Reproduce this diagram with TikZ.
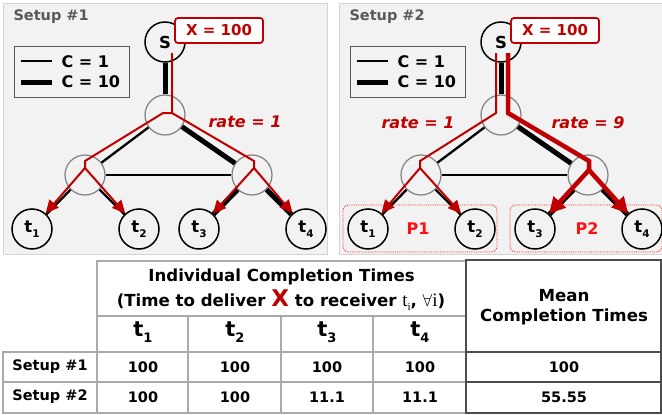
\documentclass[tikz,border=0pt]{standalone}
\usepackage{fontspec}
\setmainfont{DejaVu Sans}
\newfontfamily\serifmark{Liberation Serif}
\usetikzlibrary{arrows.meta}
\definecolor{bgGray}{HTML}{F2F2F2}
\definecolor{edgeGray}{HTML}{D4D4D4}
\definecolor{routerGray}{HTML}{808080}
\definecolor{titleGray}{HTML}{595959}
\definecolor{flowRed}{HTML}{C00000}
\definecolor{partRed}{HTML}{FF1010}
\definecolor{gridGray}{HTML}{AAAAAA}
\definecolor{meanGray}{HTML}{4D4D4D}
\newcommand{\sized}[1]{\fontsize{#1}{#1}\selectfont}
\newcommand{\idx}[1]{\raisebox{-5pt}{\sized{10.5}#1}}
\tikzset{
  panel/.style={fill=bgGray, draw=edgeGray, line width=1pt},
  title/.style={text=titleGray, font=\sized{14.5}\bfseries},
  legendbox/.style={draw=titleGray, line width=0.8pt},
  legendtxt/.style={font=\sized{16}\bfseries},
  router/.style={circle, draw=routerGray, line width=1.2pt, fill=bgGray,
    minimum size=40pt, inner sep=0pt},
  host/.style={circle, draw=black, line width=1.5pt, fill=bgGray,
    minimum size=40pt, inner sep=0pt, font=\sized{16.5}\bfseries},
  thinlink/.style={line width=2.3pt},
  thicklink/.style={line width=5pt},
  xbox/.style={draw=flowRed, fill=white, line width=1.8pt, rounded corners=3pt,
    text=flowRed, minimum width=88pt, minimum height=25pt, inner sep=0pt,
    font=\sized{15}\bfseries},
  flow/.style={draw=flowRed, line width=2pt},
  flowbig/.style={draw=flowRed, line width=4.5pt},
  redtip/.style={-{Triangle[length=13pt,width=12pt]}},
  bigtip/.style={-{Triangle[length=16pt,width=16pt]}},
  ratetxt/.style={text=flowRed, font=\sized{16}\bfseries\itshape},
  partbox/.style={draw=partRed, densely dotted, line width=0.8pt, rounded corners=5pt},
  parttxt/.style={text=partRed, font=\sized{16}\bfseries},
  grid/.style={draw=gridGray, line width=1.5pt},
  meanbox/.style={draw=meanGray, line width=2.5pt},
  cell/.style={font=\sized{14.5}\bfseries},
  head/.style={font=\sized{16.6}\bfseries, align=center}
}

\begin{document}
\begin{tikzpicture}[x=1pt, y=-1pt, font=\sized{15}\bfseries]
  \useasboundingbox (0,0) rectangle (662,415);

  % Setup #1
  \draw[panel] (3,3) rectangle (327,254);
  \node[title, anchor=west] (titleA) at (10,17) {Setup \#1};
  \draw[legendbox] (14,46) rectangle (129,97);
  \draw[thinlink] (21,61) -- (52,61);
  \draw[thicklink] (21,82) -- (52,82);
  \node[legendtxt, anchor=west] (capA1) at (58,62) {C = 1};
  \node[legendtxt, anchor=west] (capA10) at (58,82) {C = 10};

  \node[host] (sA) at (165,42) {S};
  \node[router] (hubA) at (165,115) {};
  \node[router] (leftA) at (85,175) {};
  \node[router] (rightA) at (252,175) {};
  \node[host] (tA1) at (32,229) {t\idx{1}};
  \node[host] (tA2) at (139,229) {t\idx{2}};
  \node[host] (tA3) at (199,229) {t\idx{3}};
  \node[host] (tA4) at (306,229) {t\idx{4}};

  \draw[thicklink] (sA) -- (hubA);
  \draw[thinlink] (hubA) -- (leftA);
  \draw[thicklink] (hubA) -- (rightA);
  \draw[thinlink] (leftA) -- (rightA);
  \draw[thinlink] (leftA) -- (tA1);
  \draw[thinlink] (leftA) -- (tA2);
  \draw[thicklink] (rightA) -- (tA3);
  \draw[thicklink] (rightA) -- (tA4);

  \node[xbox] (xA) at (219,30.5) {X = 100};

  \coordinate (srcA) at (172,53);
  \coordinate (bendA) at (172,113);
  \coordinate (bendAl) at (163,113);
  \coordinate (kneeAl) at (85,161);
  \coordinate (forkAl) at (85,168);
  \coordinate (kneeAr) at (254,161);
  \coordinate (forkAr) at (254,168);
  \draw[flow] (forkAl) -- (kneeAl) -- (bendAl) -- (bendA) -- (srcA);
  \draw[flow] (bendA) -- (kneeAr) -- (forkAr);
  \draw[flow, redtip] (forkAl) -- (tA1);
  \draw[flow, redtip] (forkAl) -- (tA2);
  \draw[flow, redtip] (forkAr) -- (tA3);
  \draw[flow, redtip] (forkAr) -- (tA4);
  \node[ratetxt] (rateA) at (245,122) {rate = 1};

  % Setup #2
  \begin{scope}[shift={(336,0)}]
    \draw[panel] (3,3) rectangle (330,254);
    \node[title, anchor=west] (titleB) at (10,17) {Setup \#2};
    \draw[legendbox] (14,46) rectangle (129,97);
    \draw[thinlink] (21,61) -- (52,61);
    \draw[thicklink] (21,82) -- (52,82);
    \node[legendtxt, anchor=west] (capB1) at (58,62) {C = 1};
    \node[legendtxt, anchor=west] (capB10) at (58,82) {C = 10};

    \draw[partbox] (7,205) rectangle (161,252);
    \draw[partbox] (174,205) rectangle (326,252);
    \node[parttxt] (partB1) at (82,229) {P1};
    \node[parttxt] (partB2) at (251,229) {P2};

    \node[host] (sB) at (165,42) {S};
    \node[router] (hubB) at (165,115) {};
    \node[router] (leftB) at (85,175) {};
    \node[router] (rightB) at (252,175) {};
    \node[host] (tB1) at (32,229) {t\idx{1}};
    \node[host] (tB2) at (139,229) {t\idx{2}};
    \node[host] (tB3) at (199,229) {t\idx{3}};
    \node[host] (tB4) at (306,229) {t\idx{4}};

    \draw[thicklink] (sB) -- (hubB);
    \draw[thinlink] (hubB) -- (leftB);
    \draw[thicklink] (hubB) -- (rightB);
    \draw[thinlink] (leftB) -- (rightB);
    \draw[thinlink] (leftB) -- (tB1);
    \draw[thinlink] (leftB) -- (tB2);
    \draw[thicklink] (rightB) -- (tB3);
    \draw[thicklink] (rightB) -- (tB4);

    \node[xbox] (xB) at (219,30.5) {X = 100};

    \coordinate (srcBl) at (160,53);
    \coordinate (bendBl) at (160,113);
    \coordinate (kneeBl) at (84,161);
    \coordinate (forkBl) at (84,168);
    \coordinate (srcBr) at (172,53);
    \coordinate (bendBr) at (172,113);
    \coordinate (kneeBr) at (253,161);
    \coordinate (forkBr) at (253,170);
    \draw[flow] (srcBl) -- (bendBl) -- (kneeBl) -- (forkBl);
    \draw[flowbig] (srcBr) -- (bendBr) -- (kneeBr) -- (forkBr);
    \draw[flow, redtip] (forkBl) -- (tB1);
    \draw[flow, redtip] (forkBl) -- (tB2);
    \draw[flowbig, bigtip] (forkBr) -- (tB3);
    \draw[flowbig, bigtip] (forkBr) -- (tB4);
    \node[ratetxt] (rateB1) at (82,123) {rate = 1};
    \node[ratetxt] (rateB9) at (252,123) {rate = 9};
  \end{scope}

  % table
  \draw[grid] (97,261) rectangle (466,413);
  \draw[grid] (97,316) -- (466,316);
  \draw[grid] (3,352) -- (466,352);
  \draw[grid] (3,382) -- (466,382);
  \draw[grid] (3,352) rectangle (97,413);
  \draw[grid] (188,316) -- (188,413);
  \draw[grid] (281,316) -- (281,413);
  \draw[grid] (373,316) -- (373,413);
  \draw[meanbox] (466,260) rectangle (661,413);
  \draw[meanbox] (466,352) -- (661,352);
  \draw[meanbox] (466,382) -- (661,382);

  \node[head] (hdrInd) at (281.5,277) {Individual Completion Times};
  \node[head] (hdrSub) at (281,300) {(Time to deliver
    {\color{flowRed}\sized{23}X} to receiver
    {\mdseries\serifmark\sized{19}t\raisebox{-4pt}{\sized{11}i}},
    {\sized{19}$\forall${\mdseries\serifmark i}})};
  \node[head] (hdrMean) at (564,307) {Mean\\[3pt]Completion Times};
  \node[cell, font=\sized{21}\bfseries] (hdrT1) at (143,332) {t\raisebox{-6pt}{\sized{13}1}};
  \node[cell, font=\sized{21}\bfseries] (hdrT2) at (235,332) {t\raisebox{-6pt}{\sized{13}2}};
  \node[cell, font=\sized{21}\bfseries] (hdrT3) at (327,332) {t\raisebox{-6pt}{\sized{13}3}};
  \node[cell, font=\sized{21}\bfseries] (hdrT4) at (420,332) {t\raisebox{-6pt}{\sized{13}4}};

  \node[cell] (rowA) at (50,367) {Setup \#1};
  \node[cell] (valA1) at (143,367) {100};
  \node[cell] (valA2) at (235,367) {100};
  \node[cell] (valA3) at (327,367) {100};
  \node[cell] (valA4) at (420,367) {100};
  \node[cell] (meanA) at (564,367) {100};
  \node[cell] (rowB) at (50,397) {Setup \#2};
  \node[cell] (valB1) at (143,397) {100};
  \node[cell] (valB2) at (235,397) {100};
  \node[cell] (valB3) at (327,397) {11.1};
  \node[cell] (valB4) at (420,397) {11.1};
  \node[cell] (meanB) at (564,397) {55.55};
\end{tikzpicture}
\end{document}
